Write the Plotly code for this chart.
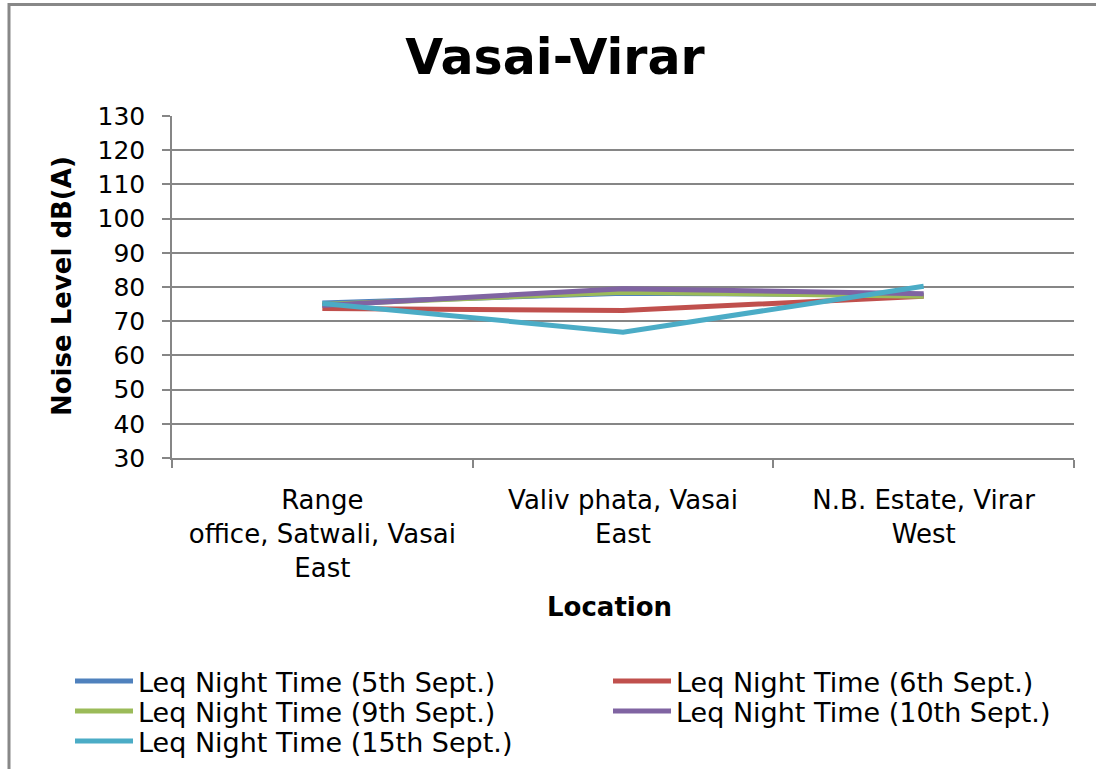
import plotly.graph_objects as go

locations = [
    "Range<br>office, Satwali, Vasai<br>East",
    "Valiv phata, Vasai<br>East",
    "N.B. Estate, Virar<br>West",
]
series_names = [
    "Leq Night Time (5th Sept.)",
    "Leq Night Time (6th Sept.)",
    "Leq Night Time (9th Sept.)",
    "Leq Night Time (10th Sept.)",
    "Leq Night Time (15th Sept.)",
]
leq_5th = [75.3, 78.2, 77.6]
leq_6th = [73.7, 73.1, 77.3]
leq_9th = [74.9, 78.5, 77.3]
leq_10th = [74.6, 79.5, 78.0]
leq_15th = [75.2, 66.8, 80.2]
series_values = [leq_5th, leq_6th, leq_9th, leq_10th, leq_15th]
colors = ["#4F81BD", "#C0504D", "#9BBB59", "#8064A2", "#4BACC6"]

FONT = "DejaVu Sans, Verdana, sans-serif"
W, H = 1096, 769
L, R, T, B = 172, 22, 116, 311
pw = W - L - R
ph = H - T - B

# legend slot positions (page pixels): left x, top y
legend_ids = ["legend", "legend2", "legend3", "legend4", "legend5"]
legend_slots = [(70, 657), (608, 657), (70, 687), (608, 687), (70, 717)]

fig = go.Figure()
for name, vals, col, lid in zip(series_names, series_values, colors, legend_ids):
    fig.add_trace(go.Scatter(
        x=locations, y=vals, mode="lines", name=name,
        line=dict(color=col, width=5), legend=lid,
    ))

legend_layout = {}
for lid, (lx, ly) in zip(legend_ids, legend_slots):
    legend_layout[lid] = dict(
        orientation="v", xref="container", yref="container",
        x=lx / W, xanchor="left", y=1 - ly / H, yanchor="top",
        font=dict(size=27, family=FONT, color="black"),
        itemwidth=58, bgcolor="rgba(0,0,0,0)", borderwidth=0,
    )

fig.update_layout(
    width=W, height=H,
    margin=dict(l=L, r=R, t=T, b=B, autoexpand=False),
    paper_bgcolor="white", plot_bgcolor="white",
    font=dict(family=FONT, color="black", size=25),
    title=dict(
        text="<b>Vasai-Virar</b>", x=555 / W, xref="container", xanchor="center",
        y=1 - 57 / H, yref="container", yanchor="middle",
        font=dict(size=49, family=FONT, color="black"),
    ),
    showlegend=True,
    xaxis=dict(
        type="category", range=[-0.5, 2.5], showgrid=False,
        showline=True, linecolor="#868686", linewidth=1.5,
        ticks="outside", tickson="boundaries", ticklen=8, tickcolor="#868686", tickwidth=1.5,
        tickfont=dict(size=26, family=FONT), ticklabelstandoff=18,
        fixedrange=True,
    ),
    yaxis=dict(
        range=[30, 130], dtick=10, tick0=30,
        showgrid=True, gridcolor="#868686", gridwidth=1.5,
        showline=True, linecolor="#868686", linewidth=1.5,
        ticks="outside", ticklen=8, tickcolor="#868686", tickwidth=1.5,
        tickfont=dict(size=25, family=FONT), ticklabelstandoff=12,
        zeroline=False, fixedrange=True,
    ),
    annotations=[
        dict(
            text="<b>Noise Level dB(A)</b>", textangle=-90,
            xref="paper", yref="paper", x=(62 - L) / pw, y=(H - B - 286) / ph,
            xanchor="center", yanchor="middle", showarrow=False,
            font=dict(size=26, family=FONT, color="black"),
        ),
        dict(
            text="<b>Location</b>",
            xref="paper", yref="paper", x=(609 - L) / pw, y=(H - B - 607) / ph,
            xanchor="center", yanchor="middle", showarrow=False,
            font=dict(size=26, family=FONT, color="black"),
        ),
    ],
    **legend_layout,
)

# outer chart frame (only left and top edges visible in the crop)
fig.add_shape(
    type="rect", xref="paper", yref="paper",
    x0=(9 - L) / pw, x1=(W + 20 - L) / pw,
    y0=(H - B - (H + 20)) / ph, y1=(H - B - 4.5) / ph,
    line=dict(color="#888888", width=3), fillcolor="rgba(0,0,0,0)", layer="below",
)

fig.write_html(
    "out.html",
    config={"displayModeBar": False},
    post_script="document.body.style.margin='0';document.body.style.overflow='hidden';",
)
